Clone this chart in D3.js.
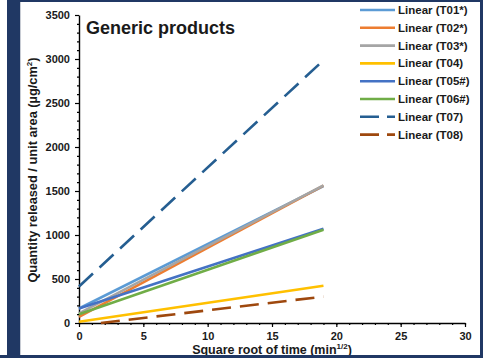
<!DOCTYPE html>
<html>
<head>
<meta charset="utf-8">
<script src="https://cdn.jsdelivr.net/npm/d3@7"></script>
<style>
  html, body { margin: 0; padding: 0; background: #ffffff; }
  svg { display: block; font-family: "Liberation Sans", Arial, sans-serif; }
</style>
</head>
<body>
<svg id="chart" width="483" height="358"></svg>
<script>
// Linear trendlines of cumulative release vs. square root of time
const seriesNames = ["Linear (T01*)", "Linear (T02*)", "Linear (T03*)", "Linear (T04)",
                     "Linear (T05#)", "Linear (T06#)", "Linear (T07)", "Linear (T08)"];
const startX      = [0, 0, 0, 0, 0, 0, 0, 1.7];
const endX        = [19, 19, 19, 19, 19, 19, 19, 19];
const startValues = [165, 70, 110, 15, 165, 100, 415, 0];
const endValues   = [1555, 1560, 1565, 424, 1072, 1060, 2985, 300];

const xTicks = [0, 5, 10, 15, 20, 25, 30];
const yTicks = [0, 500, 1000, 1500, 2000, 2500, 3000, 3500];
const xMinorTicks = d3.range(0, 31, 1);
const yMinorTicks = d3.range(0, 3501, 100);

// Office palette and dash styles per series
const colors = ["#5B9BD5", "#ED7D31", "#A5A5A5", "#FFC000", "#4472C4", "#70AD47", "#255E91", "#9E480E"];
const dashed = [false, false, false, false, false, false, true, true];

const svg = d3.select("#chart");

// slide frame
const navy = "#203864";
svg.append("rect").attr("x", 0).attr("y", 0).attr("width", 483).attr("height", 358).attr("fill", "#ffffff");
svg.append("rect").attr("x", 7).attr("y", 0).attr("width", 13).attr("height", 358).attr("fill", navy);
svg.append("rect").attr("x", 20).attr("y", 0).attr("width", 463).attr("height", 2).attr("fill", navy);
svg.append("rect").attr("x", 480).attr("y", 0).attr("width", 3).attr("height", 358).attr("fill", navy);
svg.append("line").attr("x1", 20.5).attr("x2", 20.5).attr("y1", 2).attr("y2", 355)
   .attr("stroke", "#c8ccd4").attr("stroke-width", 1);

const x = d3.scaleLinear().domain([0, 30]).range([79, 465]);
const y = d3.scaleLinear().domain([0, 3500]).range([323, 15]);

// minor ticks
svg.append("g").attr("transform", "translate(0,323)")
   .call(d3.axisBottom(x).tickValues(xMinorTicks).tickSize(2).tickFormat(""))
   .call(g => g.select(".domain").remove());
svg.append("g").attr("transform", "translate(79,0)")
   .call(d3.axisLeft(y).tickValues(yMinorTicks).tickSize(2).tickFormat(""))
   .call(g => g.select(".domain").remove());

// major axes
const xAxis = svg.append("g").attr("transform", "translate(0,323)")
   .call(d3.axisBottom(x).tickValues(xTicks).tickFormat(d3.format("d"))
         .tickSize(4).tickSizeOuter(0).tickPadding(5));
const yAxis = svg.append("g").attr("transform", "translate(79,0)")
   .call(d3.axisLeft(y).tickValues(yTicks).tickFormat(d3.format("d"))
         .tickSize(4).tickSizeOuter(0).tickPadding(5));

[xAxis, yAxis].forEach(g => {
  g.selectAll("text").attr("font-family", "Liberation Sans, Arial, sans-serif")
   .attr("font-size", 11).attr("font-weight", "bold").attr("fill", "#1a1a1a");
  g.select(".domain").attr("stroke", "#000").attr("stroke-width", 1.4);
});
svg.selectAll("g line").attr("stroke", "#000").attr("stroke-width", 1.2);

// trendlines
const line = d3.line().x(d => x(d[0])).y(d => y(d[1]));
seriesNames.forEach((name, i) => {
  svg.append("path")
     .datum([[startX[i], startValues[i]], [endX[i], endValues[i]]])
     .attr("d", line)
     .attr("fill", "none")
     .attr("stroke", colors[i])
     .attr("stroke-width", 2.6)
     .attr("stroke-dasharray", dashed[i] ? "19,9" : null);
});

// title
svg.append("text").attr("x", 86).attr("y", 34)
   .attr("font-size", 18).attr("font-weight", "bold").attr("fill", "#1a1a1a")
   .text("Generic products");

// axis titles
const xt = svg.append("text").attr("x", 272).attr("y", 354)
   .attr("text-anchor", "middle").attr("font-size", 12.5).attr("font-weight", "bold").attr("fill", "#1a1a1a");
xt.append("tspan").text("Square root of time (min");
xt.append("tspan").attr("font-size", 8).attr("dy", -5).text("1/2");
xt.append("tspan").attr("dy", 5).text(")");

const yt = svg.append("text").attr("transform", "translate(37,170) rotate(-90)")
   .attr("text-anchor", "middle").attr("font-size", 12.8).attr("font-weight", "bold").attr("fill", "#1a1a1a");
yt.append("tspan").text("Quantity released / unit area (µg/cm");
yt.append("tspan").attr("font-size", 8).attr("dy", -5).text("2");
yt.append("tspan").attr("dy", 5).text(")");

// bottom frame edge drawn over the axis title baseline area
svg.append("rect").attr("x", 0).attr("y", 355).attr("width", 483).attr("height", 3).attr("fill", navy);

// legend
const legend = svg.append("g");
seriesNames.forEach((name, i) => {
  const ly = 10 + i * 17.8;
  legend.append("line").attr("x1", 360).attr("x2", 395).attr("y1", ly).attr("y2", ly)
     .attr("stroke", colors[i]).attr("stroke-width", 2.6)
     .attr("stroke-dasharray", dashed[i] ? "19,8" : null);
  legend.append("text").attr("x", 398).attr("y", ly + 4)
     .attr("font-size", 11.5).attr("font-weight", "bold").attr("fill", "#1a1a1a")
     .text(name);
});
</script>
</body>
</html>
